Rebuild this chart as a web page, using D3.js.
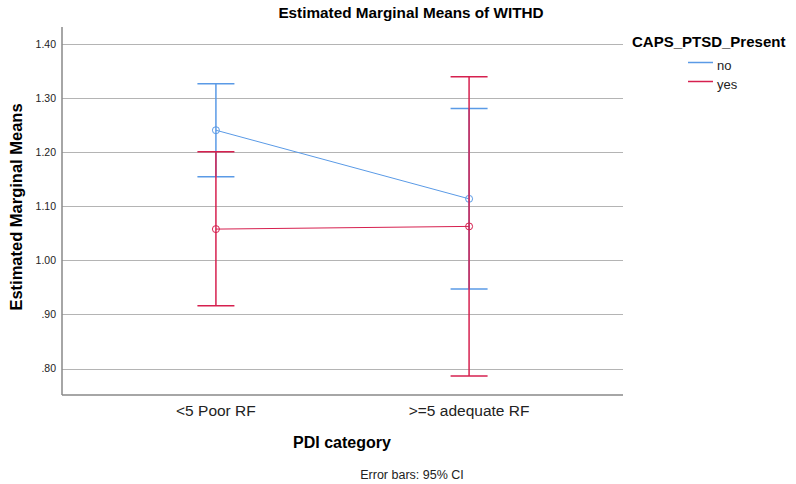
<!DOCTYPE html>
<html>
<head>
<meta charset="utf-8">
<script src="https://cdn.jsdelivr.net/npm/d3@7"></script>
<style>
  body { margin: 0; background: #fff; }
  svg { display: block; font-family: Arial, "Liberation Sans", sans-serif; }
</style>
</head>
<body>
<div id="chart"></div>
<script>
// Estimated marginal means of WITHD, by PDI category and CAPS_PTSD_Present

// Data
const categories = ["<5 Poor RF", ">=5 adequate RF"];
const groups = ["no", "yes"];
const meansNo = [1.241, 1.114];
const lowerNo = [1.155, 0.947];
const upperNo = [1.327, 1.281];
const meansYes = [1.058, 1.063];
const lowerYes = [0.916, 0.786];
const upperYes = [1.201, 1.340];
const yTicks = [0.8, 0.9, 1.0, 1.1, 1.2, 1.3, 1.4];
const yTickLabels = [".80", ".90", "1.00", "1.10", "1.20", "1.30", "1.40"];

const width = 796, height = 484;
const plotLeft = 62, plotRight = 623, plotTop = 27, plotBottom = 395;
const colors = { no: "#5a9ae6", yes: "#d6204f" };

const svg = d3.select("#chart").append("svg")
    .attr("width", width)
    .attr("height", height);

// Scales
const x = d3.scalePoint().domain(categories).range([plotLeft, plotRight]).padding(0.608);
const y = d3.scaleLinear().domain([0.751, 1.432]).range([plotBottom, plotTop]);

// Gridlines
svg.append("g").selectAll("line")
    .data(yTicks)
    .join("line")
    .attr("x1", plotLeft).attr("x2", plotRight)
    .attr("y1", d => Math.round(y(d)) + 0.5)
    .attr("y2", d => Math.round(y(d)) + 0.5)
    .attr("stroke", "#b4b4b4")
    .attr("stroke-width", 1);

// Y tick labels
svg.append("g").selectAll("text")
    .data(yTicks)
    .join("text")
    .attr("x", 56)
    .attr("y", d => y(d))
    .attr("dy", "0.35em")
    .attr("text-anchor", "end")
    .attr("font-size", "10.5px")
    .attr("fill", "#222")
    .text((d, i) => yTickLabels[i]);

// Axis lines
svg.append("line")
    .attr("x1", plotLeft).attr("x2", plotLeft)
    .attr("y1", plotTop).attr("y2", plotBottom)
    .attr("stroke", "#888").attr("stroke-width", 1.5);
svg.append("line")
    .attr("x1", plotLeft).attr("x2", plotRight)
    .attr("y1", plotBottom).attr("y2", plotBottom)
    .attr("stroke", "#888").attr("stroke-width", 1.5);

// X category labels
svg.append("g").selectAll("text")
    .data(categories)
    .join("text")
    .attr("x", d => x(d))
    .attr("y", 416)
    .attr("text-anchor", "middle")
    .attr("font-size", "15.5px")
    .attr("fill", "#222")
    .text(d => d);

// Series built from the arrays
const series = [
    { key: "no", means: meansNo, lower: lowerNo, upper: upperNo },
    { key: "yes", means: meansYes, lower: lowerYes, upper: upperYes }
];

const capHalf = 18.5;
const line = d3.line().x(d => x(d.cat)).y(d => y(d.mean));

series.forEach(s => {
    const pts = categories.map((c, i) => ({ cat: c, mean: s.means[i], lo: s.lower[i], hi: s.upper[i] }));
    const g = svg.append("g");

    // error bars
    g.selectAll(".bar")
        .data(pts)
        .join("line")
        .attr("class", "bar")
        .attr("x1", d => x(d.cat)).attr("x2", d => x(d.cat))
        .attr("y1", d => y(d.lo)).attr("y2", d => y(d.hi))
        .attr("stroke", colors[s.key]).attr("stroke-width", 1.5);
    ["lo", "hi"].forEach(k => {
        g.selectAll(".cap-" + k)
            .data(pts)
            .join("line")
            .attr("class", "cap-" + k)
            .attr("x1", d => x(d.cat) - capHalf).attr("x2", d => x(d.cat) + capHalf)
            .attr("y1", d => y(d[k])).attr("y2", d => y(d[k]))
            .attr("stroke", colors[s.key]).attr("stroke-width", 1.5);
    });

    // mean line
    g.append("path")
        .datum(pts)
        .attr("d", line)
        .attr("fill", "none")
        .attr("stroke", colors[s.key])
        .attr("stroke-width", 1);

    // markers
    g.selectAll("circle")
        .data(pts)
        .join("circle")
        .attr("cx", d => x(d.cat))
        .attr("cy", d => y(d.mean))
        .attr("r", 3.5)
        .attr("fill", "none")
        .attr("stroke", colors[s.key])
        .attr("stroke-width", 1);
});

// Title
svg.append("text")
    .attr("x", 411).attr("y", 18)
    .attr("text-anchor", "middle")
    .attr("font-size", "15.3px").attr("font-weight", "bold")
    .text("Estimated Marginal Means of WITHD");

// Axis titles
svg.append("text")
    .attr("transform", "translate(22,207) rotate(-90)")
    .attr("text-anchor", "middle")
    .attr("font-size", "16.5px").attr("font-weight", "bold")
    .text("Estimated Marginal Means");

svg.append("text")
    .attr("x", 342).attr("y", 448)
    .attr("text-anchor", "middle")
    .attr("font-size", "16px").attr("font-weight", "bold")
    .text("PDI category");

svg.append("text")
    .attr("x", 412).attr("y", 479)
    .attr("text-anchor", "middle")
    .attr("font-size", "12.5px").attr("fill", "#222")
    .text("Error bars: 95% CI");

// Legend
svg.append("text")
    .attr("x", 632).attr("y", 47)
    .attr("font-size", "15px").attr("font-weight", "bold")
    .text("CAPS_PTSD_Present");

const legend = svg.append("g").selectAll("g")
    .data(groups)
    .join("g")
    .attr("transform", (d, i) => `translate(688,${62.5 + i * 19})`);
legend.append("line")
    .attr("x1", 0).attr("x2", 25)
    .attr("stroke", d => colors[d]).attr("stroke-width", 1.5);
legend.append("text")
    .attr("x", 29).attr("y", 7.5)
    .attr("font-size", "13px").attr("fill", "#222")
    .text(d => d);
</script>
</body>
</html>
